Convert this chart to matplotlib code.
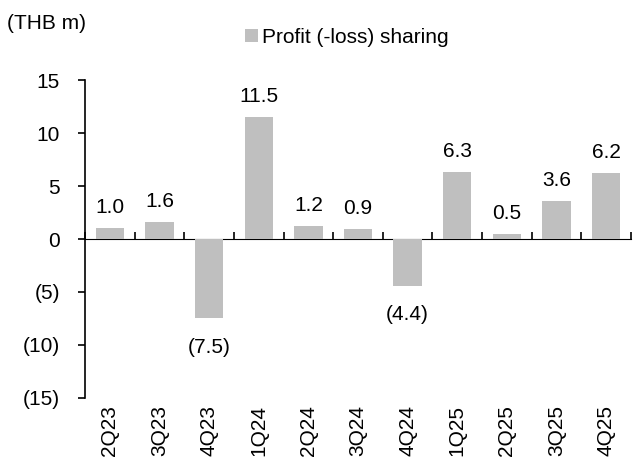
import numpy as np
import matplotlib.pyplot as plt
from matplotlib.ticker import FuncFormatter

plt.rcParams['font.family'] = ['Liberation Sans', 'DejaVu Sans']

quarters = ['2Q23', '3Q23', '4Q23', '1Q24', '2Q24', '3Q24', '4Q24', '1Q25', '2Q25', '3Q25', '4Q25']
profit_sharing = [1.0, 1.6, -7.5, 11.5, 1.2, 0.9, -4.4, 6.3, 0.5, 3.6, 6.2]

bar_color = '#BFBFBF'
fs = 15

fig = plt.figure(figsize=(6.34, 4.63), dpi=100)
ax = fig.add_axes([0.1341, 0.1404, 0.8611, 0.6868])

x = np.arange(len(quarters))
bars = ax.bar(x, profit_sharing, width=0.57, color=bar_color, label='Profit (-loss) sharing', zorder=2)

ax.set_xlim(-0.5, len(quarters) - 0.5)
ax.set_ylim(-15, 15)
ax.set_yticks(np.arange(-15, 16, 5))

def fmt_paren(v, pos):
    if v < 0:
        return f'({abs(v):.0f})'
    return f'{v:.0f}'

ax.yaxis.set_major_formatter(FuncFormatter(fmt_paren))
ax.tick_params(axis='y', direction='out', length=5, width=1.2, labelsize=fs, pad=13)

# category labels at the bottom, no tick marks
ax.set_xticks(x)
ax.set_xticklabels(quarters, rotation=90, fontsize=fs)
ax.tick_params(axis='x', length=0, pad=5)

for side in ['top', 'right', 'bottom']:
    ax.spines[side].set_visible(False)
ax.spines['left'].set_linewidth(1.2)

# zero line with boundary ticks
zero_ax = ax.secondary_xaxis(0.5)
zero_ax.set_xticks(np.arange(len(quarters) + 1) - 0.5)
zero_ax.set_xticklabels([])
zero_ax.tick_params(direction='out', length=5, width=1.2)
zero_ax.spines['bottom'].set_linewidth(1.2)

for rect, v in zip(bars, profit_sharing):
    cx = rect.get_x() + rect.get_width() / 2
    if v >= 0:
        ax.annotate(f'{v:.1f}', (cx, v), xytext=(0, 8), textcoords='offset points',
                    ha='center', va='bottom', fontsize=fs)
    else:
        ax.annotate(f'({abs(v):.1f})', (cx, v), xytext=(0, -14), textcoords='offset points',
                    ha='center', va='top', fontsize=fs)

fig.text(0.011, 0.95, '(THB m)', fontsize=fs, ha='left', va='center')
ax.legend(loc='center left', bbox_to_anchor=(0.374, 0.92), bbox_transform=fig.transFigure,
          frameon=False, fontsize=fs, handlelength=0.6, handleheight=0.6,
          handletextpad=0.2, borderaxespad=0)

fig.savefig('out.png', dpi=100)
